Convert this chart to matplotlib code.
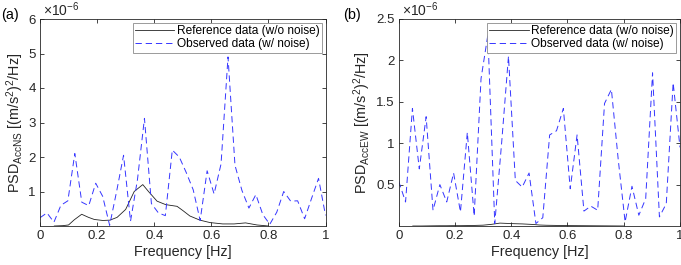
import numpy as np
import matplotlib
matplotlib.use("Agg")
import matplotlib.pyplot as plt

plt.rcParams['font.family'] = ['Liberation Sans', 'DejaVu Sans']
plt.rcParams['mathtext.fontset'] = 'custom'
plt.rcParams['mathtext.rm'] = 'Liberation Sans'
plt.rcParams['mathtext.it'] = 'Liberation Sans:italic'

# ---- data (PSD in units of 1e-6 (m/s^2)^2/Hz) ----
df = 1.0 / 41
n_obs = 42

obs_ns = [0.24, 0.38, 0.11, 0.60, 0.73, 2.10, 0.69, 0.59, 1.24, 0.86,
          0.02, 1.00, 2.05, 0.14, 1.35, 3.12, 0.65, 0.38, 0.30, 2.20,
          2.00, 1.55, 1.05, 0.16, 1.60, 0.93, 1.80, 4.90, 1.76, 1.03,
          0.52, 0.91, 0.33, 0.05, 0.40, 1.00, 0.72, 0.73, 0.21, 0.80,
          1.38, 0.31]

obs_ew = [0.54, 0.29, 1.42, 0.69, 1.32, 0.19, 0.50, 0.29, 0.64, 0.17,
          1.13, 0.12, 1.78, 2.31, 0.03, 1.00, 2.05, 0.55, 0.47, 0.64,
          0.03, 0.10, 1.10, 1.15, 1.42, 0.45, 1.10, 0.18, 0.24, 0.19,
          1.48, 1.65, 0.80, 0.05, 0.48, 0.13, 0.33, 1.85, 0.11, 0.27,
          1.73, 0.95]

ref_freq = [0.05, 0.08, 0.10, 0.12, 0.146, 0.17, 0.19, 0.22, 0.245, 0.27,
            0.30, 0.33, 0.36, 0.38, 0.41, 0.44, 0.48, 0.50, 0.525, 0.56,
            0.595, 0.64, 0.68, 0.72, 0.76, 0.80]
ref_ns = [0.00, 0.01, 0.03, 0.18, 0.34, 0.25, 0.19, 0.16, 0.17, 0.25,
          0.48, 1.00, 1.20, 1.00, 0.72, 0.62, 0.57, 0.45, 0.29, 0.17,
          0.10, 0.06, 0.06, 0.09, 0.03, 0.00]
ref_ew = [0.000, 0.000, 0.001, 0.002, 0.003, 0.003, 0.004, 0.004, 0.005, 0.007,
          0.010, 0.020, 0.035, 0.032, 0.028, 0.025, 0.018, 0.012, 0.009, 0.007,
          0.005, 0.004, 0.003, 0.002, 0.001, 0.000]

freq = np.arange(n_obs) * df

xticks = [0, 0.2, 0.4, 0.6, 0.8, 1]
xticklabels = ['0', '0.2', '0.4', '0.6', '0.8', '1']
yticks_a = [1, 2, 3, 4, 5, 6]
yticks_b = [0.5, 1, 1.5, 2, 2.5]

W, H = 681, 265
fig = plt.figure(figsize=(W / 100, H / 100), dpi=100)

txt = '#262626'
fs_tick = 9.5
fs_lab = 10.4
fs_leg = 8.6

def make_ax(rect, obs, ref, yt, ylim, ylab, letter, lx):
    ax = fig.add_axes(rect)
    ax.plot(ref_freq, ref, color='#222222', lw=0.6, label='Reference data (w/o noise)')
    ax.plot(freq, obs, color='#3535ff', lw=0.7, linestyle=(0, (6.5, 4)),
            label='Observed data (w/ noise)')
    ax.set_xlim(0, 1)
    ax.set_ylim(*ylim)
    ax.set_xticks(xticks)
    ax.set_xticklabels(xticklabels)
    ax.set_yticks(yt)
    ax.set_yticklabels([('%g' % v) for v in yt])
    ax.tick_params(direction='in', top=True, right=True, length=3, width=0.6,
                   colors='#262626', labelsize=fs_tick, pad=3)
    for s in ax.spines.values():
        s.set_color('#262626')
        s.set_linewidth(0.6)
    ax.set_xlabel('Frequency [Hz]', fontsize=fs_lab, color=txt, labelpad=2)
    ax.set_ylabel(ylab, fontsize=fs_lab, color=txt, labelpad=2)
    ax.text(0.01, 1.0, r'$\times\mathregular{10}^{\mathregular{-6}}$', transform=ax.transAxes,
            fontsize=fs_tick + 0.5, color=txt, ha='left', va='bottom')
    fig.text(lx / W, 1 - 15 / H, letter, fontsize=fs_lab, color='black', ha='left', va='center')
    leg = ax.legend(loc='upper right', fontsize=fs_leg, frameon=True, fancybox=False,
                    borderpad=0.2, handlelength=3.3, handletextpad=0.2,
                    labelspacing=0.1, borderaxespad=0.3, edgecolor='#8a8a8a',
                    framealpha=1)
    leg.get_frame().set_linewidth(0.6)
    for t in leg.get_texts():
        t.set_color('black')
    return ax

make_ax([40 / W, 1 - 226 / H, (325.5 - 40) / W, (226 - 19) / H], obs_ns, ref_ns,
        yticks_a, (0, 6), r'PSD$_{\mathregular{AccNS}}$ [(m/s$^{\mathregular{2}}$)$^{\mathregular{2}}$/Hz]',
        '(a)', 1)
make_ax([398.7 / W, 1 - 226 / H, (680 - 398.7) / W, (226 - 19) / H], obs_ew, ref_ew,
        yticks_b, (0, 2.5), r'PSD$_{\mathregular{AccEW}}$ [(m/s$^{\mathregular{2}}$)$^{\mathregular{2}}$/Hz]',
        '(b)', 343)

fig.savefig('out.png', dpi=100)
